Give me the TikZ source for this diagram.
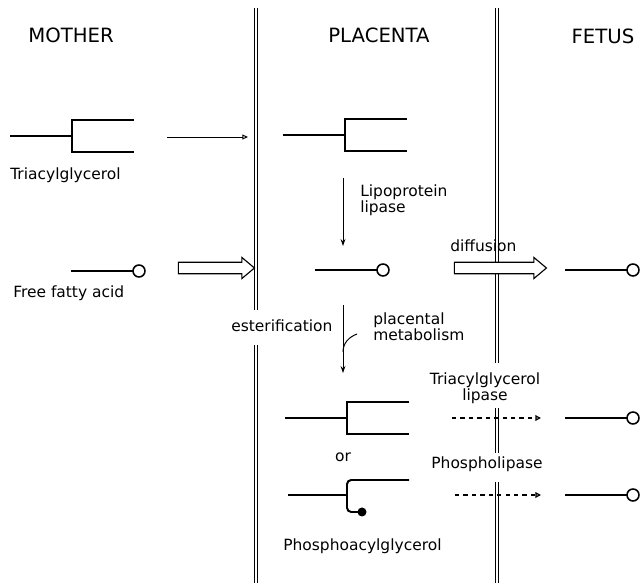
\documentclass[tikz,border=0pt]{standalone}
\usepackage{fontspec}
\setmainfont{DejaVu Sans}
\usepackage{tikz}
\usetikzlibrary{arrows.meta, positioning, shapes.arrows}
\tikzstyle{heading}  = [font=\fontsize{14}{16}\selectfont, inner sep=0pt]
\tikzstyle{lbl}      = [font=\fontsize{11}{10.4}\selectfont, inner sep=0pt, align=left]
\tikzstyle{chain}    = [line width=1.4pt]
\tikzstyle{membrane} = [double, double distance=1.7pt, line width=0.8pt]
\tikzstyle{enzyme}   = [line width=0.7pt, -{Stealth[length=5pt, width=3.5pt]}]
\tikzstyle{transfer} = [line width=0.7pt, -{Triangle[open, length=4pt, width=3.5pt]}]
\tikzstyle{lysis}    = [line width=0.9pt, dash pattern=on 3pt off 3pt, -{Triangle[open, length=4pt, width=4pt]}]
\tikzstyle{flux}     = [single arrow, draw, fill=white, line width=0.8pt, inner xsep=0pt, inner ysep=0.13cm,
    minimum width=0.525cm, single arrow head extend=0.12cm, single arrow tip angle=80]
\tikzset{
  tag/.pic={
    \draw[chain] (-62,0) -- (0,0);
    \draw[chain] (62,-16) -- (0,-16) -- (0,16) -- (62,16);
  },
  ffa/.pic={
    \draw[chain] (-68,0) -- (-6,0);
    \draw[line width=1.1pt, fill=white] (0,0) circle[radius=6];
  },
  pag/.pic={
    \draw[chain] (-59,0) -- (0,0);
    \draw[chain, rounded corners=3pt] (62,-15) -- (0,-15) -- (0,17) -- (11,17);
    \fill (15,17) circle[radius=4.5];
  },
}

\begin{document}
\begin{tikzpicture}[x=0.025cm, y=-0.025cm]
    \useasboundingbox (0,0) rectangle (641,583);

    % ===============================
    % 1. COMPARTMENTS
    % ===============================
    \node[heading] (mother)   at (71,35)  {MOTHER};
    \node[heading] (placenta) at (379,35) {PLACENTA};
    \node[heading] (fetus)    at (603,36) {FETUS};

    % Membranes
    \coordinate (mem1_top) at (256,8);
    \coordinate (mem1_cut) at (256,310);
    \coordinate (mem1_low) at (256,345);
    \coordinate (mem1_end) at (256,583);
    \coordinate (mem2_top) at (497,8);
    \coordinate (mem2_cut) at (497,363);
    \coordinate (mem2_mid) at (497,408);
    \coordinate (mem2_gap) at (497,453);
    \coordinate (mem2_low) at (497,482);
    \coordinate (mem2_end) at (497,583);
    \draw[membrane] (mem1_top) -- (mem1_cut);
    \draw[membrane] (mem1_low) -- (mem1_end);
    \draw[membrane] (mem2_top) -- (mem2_cut);
    \draw[membrane] (mem2_mid) -- (mem2_gap);
    \draw[membrane] (mem2_low) -- (mem2_end);

    % ===============================
    % 2. MOLECULES
    % ===============================
    % Mother
    \pic at (72,136)  {tag};
    \node[lbl, anchor=base west] (tag_name) at (10,180) {Triacylglycerol};
    \pic at (139,271) {ffa};
    \node[lbl, anchor=base west] (ffa_name) at (13,298) {Free fatty acid};

    % Placenta
    \pic at (345,135) {tag};
    \pic at (383,270) {ffa};
    \pic at (347,418) {tag};
    \node[lbl, anchor=base] (or_word) at (343,462) {or};
    \pic at (347,495) {pag};
    \node[lbl, anchor=base west] (pag_name) at (283,551) {Phosphoacylglycerol};

    % Fetus
    \pic at (633,270) {ffa};
    \pic at (633,418) {ffa};
    \pic at (633,495) {ffa};

    % ===============================
    % 3. TRANSFERS
    % ===============================
    \coordinate (m_tag_a) at (167,137);
    \coordinate (m_tag_b) at (248,137);
    \draw[transfer] (m_tag_a) -- (m_tag_b);

    \node[flux, minimum height=1.9cm] (m_flux) at (213,268) {};

    \coordinate (lpl_a) at (343,178);
    \coordinate (lpl_b) at (343,246);
    \draw[enzyme] (lpl_a) -- (lpl_b);
    \node[lbl, anchor=north west] (lpl_name) at (360,184) {Lipoprotein\\lipase};

    \node[flux, minimum height=2.3cm] (diff_flux) at (497,268) {};
    \node[lbl, anchor=base west] (diff_name) at (450,252) {diffusion};

    \coordinate (met_a) at (343,305);
    \coordinate (met_b) at (343,373);
    \coordinate (met_in) at (357,334);
    \coordinate (met_join) at (343,352);
    \draw[enzyme] (met_a) -- (met_b);
    \draw[line width=0.7pt] (met_in) .. controls (349,337) and (343,343) .. (met_join);
    \node[lbl, anchor=base west] (est_name) at (231,332) {esterification};
    \node[lbl, anchor=north west] (met_name) at (373,312) {placental\\metabolism};

    \coordinate (tgl_a) at (452,418);
    \coordinate (tgl_b) at (541,418);
    \draw[lysis] (tgl_a) -- (tgl_b);
    \node[lbl, align=center, anchor=north] (tgl_name) at (485,372) {Triacylglycerol\\lipase};

    \coordinate (pl_a) at (455,495);
    \coordinate (pl_b) at (541,495);
    \draw[lysis] (pl_a) -- (pl_b);
    \node[lbl, anchor=base] (pl_name) at (487,469) {Phospholipase};

\end{tikzpicture}
\end{document}
